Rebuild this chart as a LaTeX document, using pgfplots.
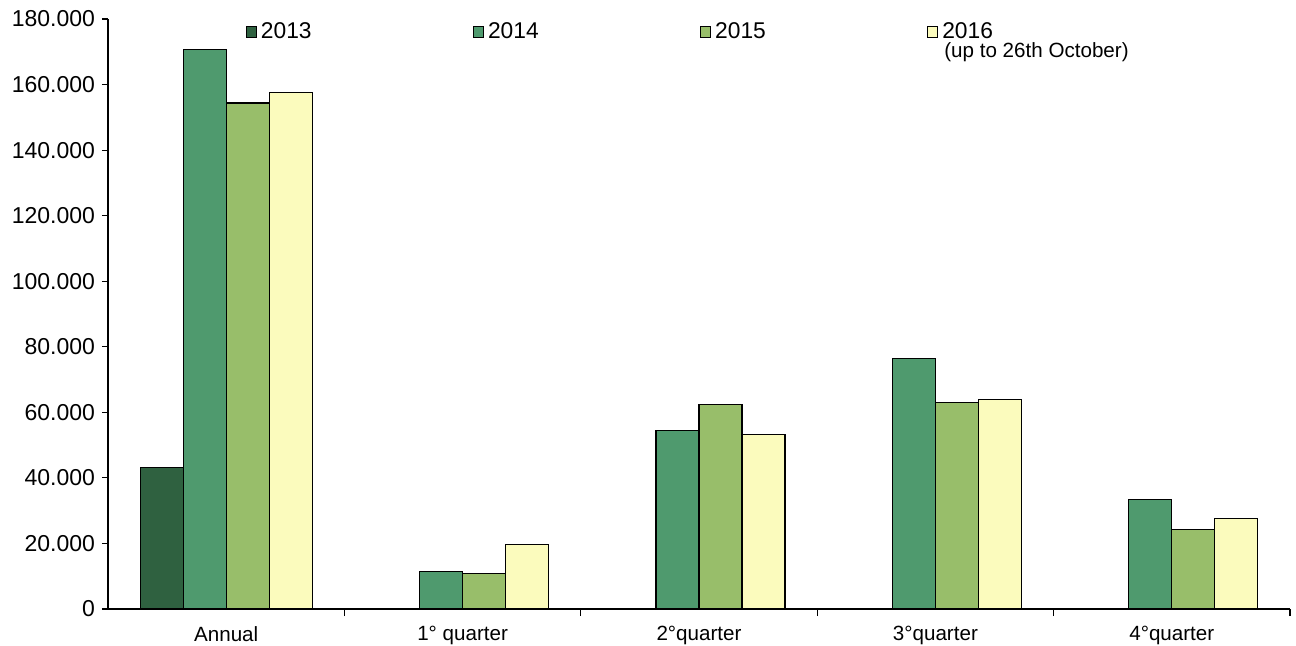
\documentclass[border=0pt]{standalone}
\usepackage{pgfplots}
\pgfplotsset{compat=1.18}
\usepackage{fontspec}
\setmainfont{Liberation Sans}
\definecolor{c13}{RGB}{47,97,64}
\definecolor{c14}{RGB}{79,154,110}
\definecolor{c15}{RGB}{152,190,106}
\definecolor{c16}{RGB}{251,251,189}
\begin{document}
\begin{tikzpicture}
\begin{axis}[
  scale only axis,
  width=591pt, height=295pt,
  ybar=0pt, bar width=0.182,
  xmin=-0.5, xmax=4.5,
  ymin=0, ymax=180000,
  ytick={0,20000,...,180000},
  scaled y ticks=false,
  yticklabel style={font=\fontsize{11.5}{13}\selectfont, /pgf/number format/.cd, fixed, 1000 sep={.}, assume math mode=true},
  xtick={0,1,2,3,4},
  xticklabels={Annual,1° quarter,2°quarter,3°quarter,4°quarter},
  minor xtick={0.5,1.5,2.5,3.5,4.5},
  major x tick style={draw=none},
  tick align=outside,
  major tick length=3pt, minor tick length=3.5pt,
  axis x line*=bottom, axis y line*=left,
  axis line style={-, line width=0.6pt},
  tick style={line width=0.6pt, black},
  xticklabel style={yshift=-2pt, font=\fontsize{10.3}{12}\selectfont},
  legend columns=4,
  legend style={draw=none, fill=none, at={(0.116,0.978)}, anchor=west, inner sep=0pt,
    font=\fontsize{11.4}{13}\selectfont,
    /tikz/every even column/.append style={column sep=78.5pt}},
  legend image code/.code={\draw[#1, line width=0.5pt] (0pt,-2.6pt) rectangle (5.2pt,2.6pt);},
  legend cell align=left,
  every axis plot/.append style={draw=black, line width=0.6pt},
]
\addplot[fill=c13] coordinates {(0,43200)};
\addplot[fill=c14] coordinates {(0,170600) (1,11500) (2,54500) (3,76500) (4,33500)};
\addplot[fill=c15] coordinates {(0,154400) (1,10900) (2,62400) (3,63000) (4,24300)};
\addplot[fill=c16] coordinates {(0,157500) (1,19800) (2,53200) (3,64000) (4,27500)};
\legend{2013,2014,2015,2016}
\node[anchor=west, inner sep=0pt, font=\fontsize{10.3}{12}\selectfont] at (axis cs:3.036,169800) {(up to 26th October)};
\end{axis}
\pgfresetboundingbox
\path (-54pt,-18pt) rectangle (594pt,304.5pt);
\end{tikzpicture}
\end{document}
